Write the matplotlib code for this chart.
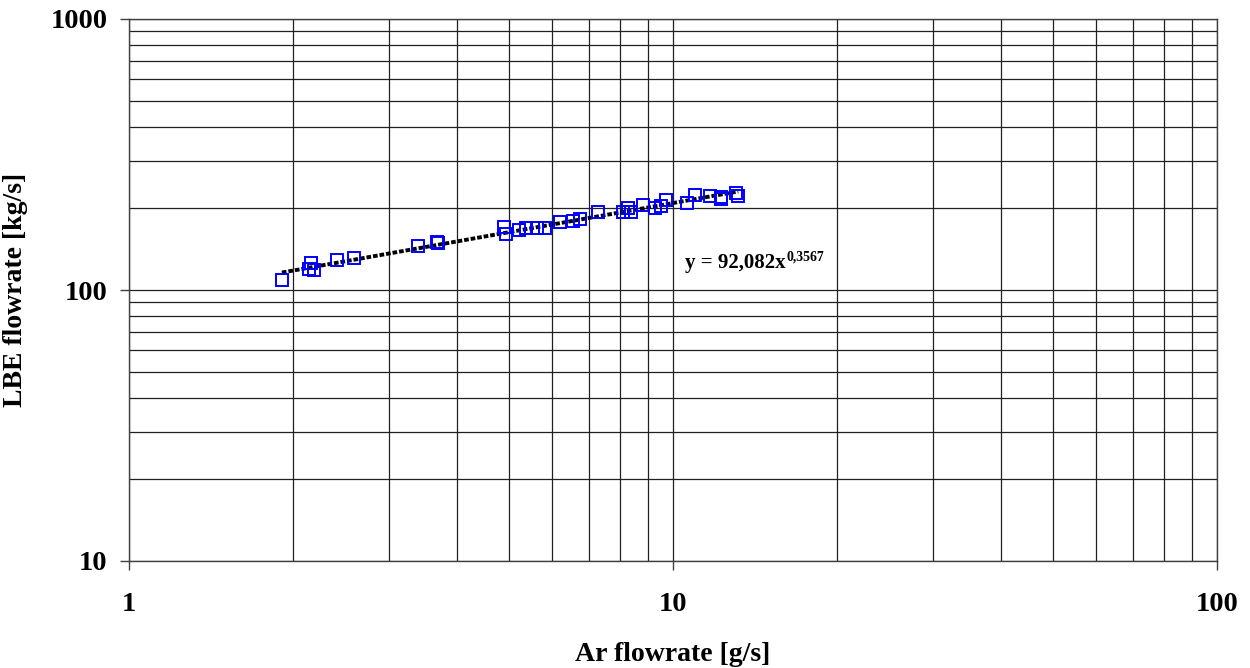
import matplotlib
matplotlib.use("Agg")
import matplotlib.pyplot as plt
import numpy as np

plt.rcParams['font.family'] = ['Liberation Serif', 'DejaVu Serif']
plt.rcParams['font.weight'] = 'bold'

# measured points (Ar flowrate g/s, LBE flowrate kg/s)
ar_flow = [1.91, 2.16, 2.14, 2.19, 2.41, 2.59, 3.40, 3.69, 3.70,
           4.90, 4.93, 5.20, 5.37, 5.62, 5.82, 6.20, 6.56, 6.75,
           7.29, 8.10, 8.28, 8.36, 8.80, 9.27, 9.49, 9.71, 10.61,
           10.98, 11.70, 12.23, 12.25, 13.07, 13.18]
lbe_flow = [108.9, 125.3, 119.5, 118.5, 129.0, 131.6, 145.3, 150.8, 148.5,
            170.3, 160.9, 166.5, 169.8, 168.9, 168.9, 177.8, 179.8, 182.8,
            194.5, 193.5, 200.2, 193.5, 205.9, 200.2, 204.7, 214.8, 208.9,
            224.2, 222.3, 219.8, 216.7, 227.4, 222.8]

# power-law trendline y = a * x^b
fit_a = 92.082
fit_b = 0.3567

x_ticks = [1, 10, 100]
y_ticks = [10, 100, 1000]

fig = plt.figure(figsize=(12.5, 6.68), dpi=100)
ax = fig.add_axes([129 / 1250, 1 - 561 / 668, (1217 - 129) / 1250, (561 - 19) / 668])

x_fit = np.linspace(min(ar_flow), max(ar_flow), 200)
ax.plot(x_fit, fit_a * x_fit ** fit_b, color='black', lw=2.8,
        linestyle=(0, (1.2, 0.5)), zorder=3)
ax.plot(ar_flow, lbe_flow, linestyle='none', marker='s', ms=8,
        mfc='none', mec='#0000ff', mew=1.4, zorder=4)

ax.set_xscale('log')
ax.set_yscale('log')
ax.set_xlim(1, 100)
ax.set_ylim(10, 1000)
ax.set_xticks(x_ticks)
ax.set_xticklabels([str(t) for t in x_ticks])
ax.set_yticks(y_ticks)
ax.set_yticklabels([str(t) for t in y_ticks])
ax.minorticks_on()
ax.tick_params(which='minor', length=0)
ax.tick_params(which='major', direction='out', length=6.5, width=1, color='#404040',
               labelsize=20.5)
ax.tick_params(axis='x', pad=16)
ax.tick_params(axis='y', pad=9)
for lab in ax.get_xticklabels() + ax.get_yticklabels():
    lab.set_fontweight('bold')

ax.grid(True, which='both', color='#202020', lw=0.9)
for s in ax.spines.values():
    s.set_color('#404040')
    s.set_linewidth(1)

ax.set_xlabel('Ar flowrate [g/s]', fontsize=20, fontweight='bold', labelpad=18)
ax.set_ylabel('LBE flowrate [kg/s]', fontsize=20, fontweight='bold', labelpad=16)

eq = ax.text(10.52, 120.6, 'y = 92,082x', fontsize=15, fontweight='bold',
             va='baseline', ha='left', zorder=5)
ax.annotate('0,3567', xy=(1, 1), xycoords=eq, xytext=(0.5, 2), textcoords='offset points',
            fontsize=10, fontweight='bold', va='top', ha='left')

plt.savefig('out.png', dpi=100)
